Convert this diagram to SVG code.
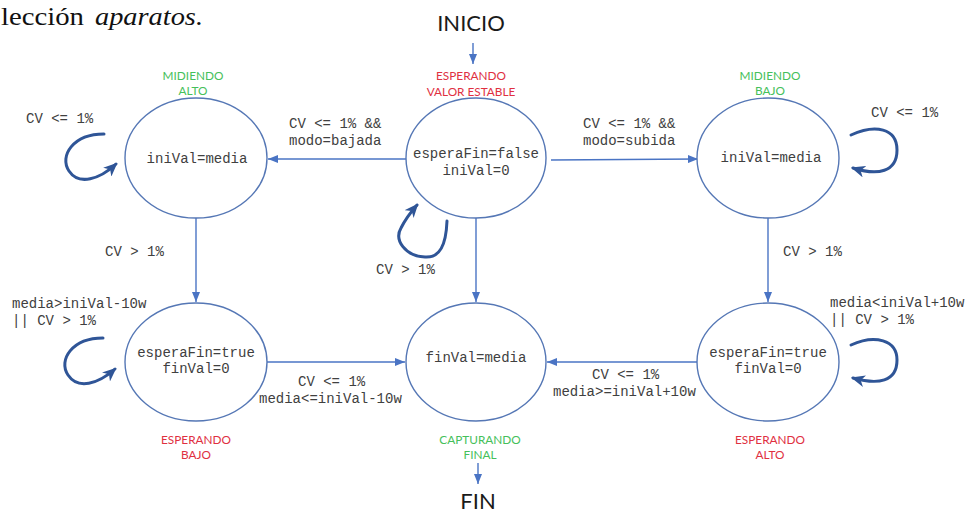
<svg xmlns="http://www.w3.org/2000/svg" width="965" height="513" viewBox="0 0 965 513">
  <defs>
    <style>
      .state { fill: #ffffff; stroke: #5577b5; stroke-width: 1.4; }
      .code { font-family: "Liberation Mono", "Courier New", monospace; font-size: 14px; fill: #404040; }
      .mid { text-anchor: middle; }
      .tag { font-family: Lato, "Liberation Sans", sans-serif; font-size: 11.8px; text-anchor: middle; }
      .red { fill: #e0303f; }
      .green { fill: #45c05a; }
      .big { font-family: Lato, "Liberation Sans", sans-serif; font-size: 22px; fill: #1a1a1a; text-anchor: middle; }
      .serif { font-family: "Liberation Serif", "Times New Roman", serif; font-size: 26px; fill: #111; }
      .edge { fill: none; stroke: #4a74c4; stroke-width: 1.4; marker-end: url(#ah); }
      .loop { fill: none; stroke: #2f5597; stroke-width: 3; stroke-linecap: round; marker-end: url(#loopHead); }
    </style>
    <marker id="ah" viewBox="0 0 10 8" refX="10" refY="4" markerWidth="10" markerHeight="8" markerUnits="userSpaceOnUse" orient="auto">
      <path d="M0,0 L10,4 L0,8 z" fill="#4a74c4"/>
    </marker>
    <marker id="loopHead" viewBox="0 0 14 12" refX="12" refY="6" markerWidth="14" markerHeight="12" markerUnits="userSpaceOnUse" orient="auto">
      <path d="M0,0 L14,6 L0,12 L4,6 z" fill="#2f5597"/>
    </marker>
  </defs>

  <rect width="965" height="513" fill="#ffffff"/>

  <!-- running text above the figure -->
  <text class="serif" x="1" y="25" textLength="83" lengthAdjust="spacingAndGlyphs">lección</text>
  <text class="serif" x="95" y="25" font-style="italic" textLength="108" lengthAdjust="spacingAndGlyphs">aparatos.</text>

  <!-- start / end markers -->
  <text class="big" x="471" y="31">INICIO</text>
  <text class="big" x="478" y="509">FIN</text>

  <g id="connectors">
    <line class="edge" x1="473" y1="43" x2="473" y2="64"/>
    <line class="edge" x1="478" y1="463" x2="478" y2="484"/>
    <!-- from waiting-stable state -->
    <line class="edge" x1="406" y1="159" x2="268" y2="159"/>
    <line class="edge" x1="551" y1="160" x2="698" y2="159"/>
    <line class="edge" x1="476" y1="218" x2="476" y2="302"/>
    <!-- measuring to waiting -->
    <line class="edge" x1="196" y1="218" x2="196" y2="302"/>
    <line class="edge" x1="768" y1="218" x2="768" y2="302"/>
    <!-- waiting to capture -->
    <line class="edge" x1="267" y1="362" x2="405" y2="362"/>
    <line class="edge" x1="698" y1="362" x2="547" y2="362"/>
    <!-- self loops -->
    <path class="loop" d="M104,134 C73,134 59,156 69,171 C79,186 100,179 116,164"/>
    <path class="loop" d="M851,135 C875,124 897,128 897,150 C897,172 878,176 853,168"/>
    <path class="loop" d="M103,338 C72,338 58,360 68,375 C78,390 98,384 115,369"/>
    <path class="loop" d="M851,345 C875,334 897,340 897,360 C897,382 878,385 853,378"/>
    <path class="loop" d="M447,221 C446,245 440,258 425,257 C405,256 394,240 401,228 C405,220 410,213 417,205"/>
    <!-- transition labels -->
    <text class="code" x="26" y="123">CV &lt;= 1%</text>
    <text class="code" x="871" y="117">CV &lt;= 1%</text>
    <text class="code" x="289" y="128">CV &lt;= 1% &amp;&amp;</text>
    <text class="code" x="289" y="145">modo=bajada</text>
    <text class="code" x="583" y="128">CV &lt;= 1% &amp;&amp;</text>
    <text class="code" x="583" y="145">modo=subida</text>
    <text class="code" x="105" y="256">CV &gt; 1%</text>
    <text class="code" x="376" y="274">CV &gt; 1%</text>
    <text class="code" x="783" y="256">CV &gt; 1%</text>
    <text class="code" x="12" y="308">media&gt;iniVal-10w</text>
    <text class="code" x="12" y="325">|| CV &gt; 1%</text>
    <text class="code" x="830" y="307">media&lt;iniVal+10w</text>
    <text class="code" x="830" y="324">|| CV &gt; 1%</text>
    <text class="code" x="298" y="386">CV &lt;= 1%</text>
    <text class="code" x="259" y="403">media&lt;=iniVal-10w</text>
    <text class="code" x="592" y="379">CV &lt;= 1%</text>
    <text class="code" x="553" y="396">media&gt;=iniVal+10w</text>
  </g>

  <g id="midiendo-alto">
    <ellipse class="state" cx="196" cy="158" rx="71" ry="60"/>
    <text class="code mid" x="197" y="163">iniVal=media</text>
    <text class="tag green" x="193" y="80">MIDIENDO</text>
    <text class="tag green" x="193" y="95">ALTO</text>
  </g>

  <g id="esperando-valor-estable">
    <ellipse class="state" cx="476" cy="158" rx="70" ry="60"/>
    <text class="code mid" x="476" y="158">esperaFin=false</text>
    <text class="code mid" x="476" y="175">iniVal=0</text>
    <text class="tag red" x="471" y="80">ESPERANDO</text>
    <text class="tag red" x="471" y="96">VALOR ESTABLE</text>
  </g>

  <g id="midiendo-bajo">
    <ellipse class="state" cx="768" cy="158" rx="71" ry="60"/>
    <text class="code mid" x="771" y="162">iniVal=media</text>
    <text class="tag green" x="770" y="80">MIDIENDO</text>
    <text class="tag green" x="770" y="95">BAJO</text>
  </g>

  <g id="esperando-bajo">
    <ellipse class="state" cx="196" cy="362" rx="71" ry="59"/>
    <text class="code mid" x="196" y="357">esperaFin=true</text>
    <text class="code mid" x="196" y="373">finVal=0</text>
    <text class="tag red" x="196" y="444">ESPERANDO</text>
    <text class="tag red" x="196" y="459">BAJO</text>
  </g>

  <g id="capturando-final">
    <ellipse class="state" cx="476" cy="362" rx="70" ry="59"/>
    <text class="code mid" x="476" y="362">finVal=media</text>
    <text class="tag green" x="480" y="444">CAPTURANDO</text>
    <text class="tag green" x="480" y="459">FINAL</text>
  </g>

  <g id="esperando-alto">
    <ellipse class="state" cx="768" cy="362" rx="71" ry="59"/>
    <text class="code mid" x="768" y="357">esperaFin=true</text>
    <text class="code mid" x="768" y="373">finVal=0</text>
    <text class="tag red" x="770" y="444">ESPERANDO</text>
    <text class="tag red" x="770" y="459">ALTO</text>
  </g>
</svg>
